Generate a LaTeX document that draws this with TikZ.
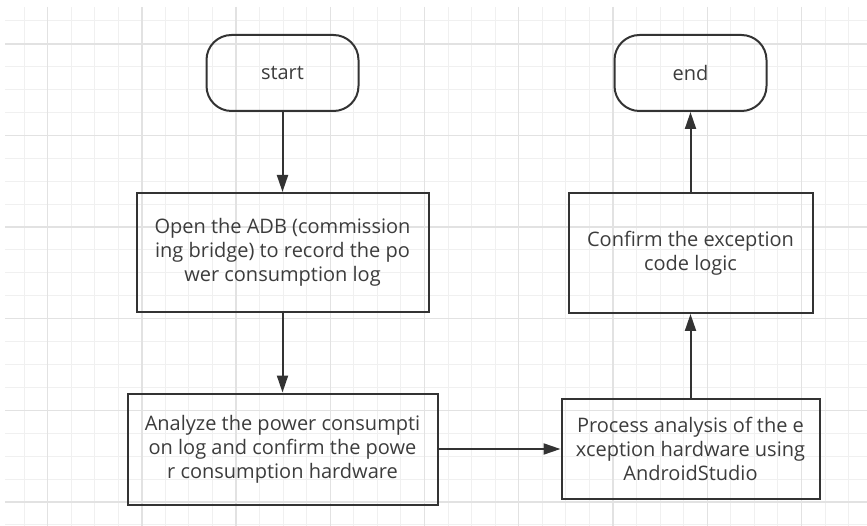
\documentclass[tikz,border=0pt]{standalone}
\usepackage{fontspec}
\setmainfont{Open Sans}
\usepackage[HTML]{xcolor}
\usetikzlibrary{positioning, arrows.meta}
\definecolor{lineclr}{HTML}{333333}
\definecolor{textclr}{HTML}{3C3C3C}
\definecolor{gridminor}{HTML}{F0F0F0}
\definecolor{gridmajor}{HTML}{E2E2E2}

\begin{document}
\begin{tikzpicture}[x=1pt, y=-1pt,
  every node/.style={font=\fontsize{20}{24}\selectfont, text=textclr},
  terminal/.style={draw=lineclr, line width=2pt, rounded corners=25pt, minimum width=152pt, minimum height=76pt},
  procbox/.style={draw=lineclr, line width=2pt, align=center, inner sep=0pt},
  flow/.style={draw=lineclr, line width=2pt, -{Triangle[length=17pt, width=11pt]}}]
\useasboundingbox (0,0) rectangle (867,526);

% --- Background grid ---
\foreach \i in {0,...,35}
  \draw[gridminor, line width=1pt] ({24+23.56*\i},7) -- ({24+23.56*\i},526);
\foreach \j in {0,...,22}
  \draw[gridminor, line width=1pt] (5,{21+22.9*\j}) -- (867,{21+22.9*\j});
\foreach \i in {1,5,...,33}
  \draw[gridmajor, line width=1.4pt] ({24+23.56*\i},7) -- ({24+23.56*\i},526);
\foreach \j in {1,5,...,21}
  \draw[gridmajor, line width=1.4pt] (5,{21+22.9*\j}) -- (867,{21+22.9*\j});

% --- Left column ---
\node[terminal] (start) at (282.5,73) {start};
\node[procbox, minimum width=292pt, minimum height=119pt] (openadb) at (282.5,252.5)
  {Open the ADB (commission\\ing bridge) to record the po\\wer consumption log};
\node[procbox, minimum width=310pt, minimum height=111pt] (analyze) at (282.5,449)
  {Analyze the power consumpti\\on log and confirm the powe\\r consumption hardware};

% --- Right column ---
\node[procbox, minimum width=258pt, minimum height=100pt] (process) at (690.5,449)
  {Process analysis of the e\\xception hardware using\\AndroidStudio};
\node[procbox, minimum width=244pt, minimum height=120pt] (confirm) at (690.5,253)
  {Confirm the exception\\code logic};
\node[terminal] (finish) at (690.5,73) {end};

% --- Connectors ---
\draw[flow] (start) -- (openadb);
\draw[flow] (openadb) -- (analyze);
\draw[flow] (analyze) -- (process);
\draw[flow] (process) -- (confirm);
\draw[flow] (confirm) -- (finish);
\end{tikzpicture}
\end{document}
